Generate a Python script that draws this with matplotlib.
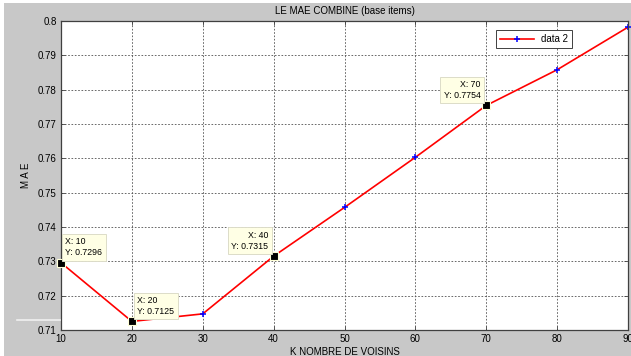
import matplotlib.pyplot as plt
from matplotlib.patches import Rectangle
from matplotlib.lines import Line2D

# K values and MAE
k_values = [10, 20, 30, 40, 50, 60, 70, 80, 90]
mae = [0.7296, 0.7125, 0.7147, 0.7315, 0.7457, 0.7603, 0.7754, 0.7858, 0.7982]

# data tips shown on the chart: (index, box offset in points, alignment)
tip_idx = [0, 1, 3, 6]
tip_offsets = [(3, 4), (4, 4), (-4, 4), (-4, 4)]
tip_align = ['left', 'left', 'right', 'right']

plt.rcParams['font.family'] = ['Liberation Sans', 'DejaVu Sans']

fig = plt.figure(figsize=(6.31, 3.56), dpi=100, facecolor='white')
fig.add_artist(Rectangle((4 / 631, 0), 1, 353 / 356, transform=fig.transFigure,
                         facecolor='#c8c8c8', edgecolor='none', zorder=-10))
fig.add_artist(Line2D([17 / 631, 60 / 631], [36 / 356, 36 / 356], transform=fig.transFigure,
                      color='#f0f0f0', linewidth=1.2))

ax = fig.add_axes([61 / 631, 26 / 356, 567 / 631, 309 / 356])
ax.set_facecolor('white')

ax.plot(k_values, mae, color='red', linewidth=1.2, marker='+', markersize=5,
        markeredgecolor='blue', markeredgewidth=1.1, label='data 2', clip_on=False)

for i, off, ha in zip(tip_idx, tip_offsets, tip_align):
    x, y = k_values[i], mae[i]
    ax.plot(x, y, marker='s', color='black', markersize=6, markeredgecolor='#ffffd8',
            markeredgewidth=0.8, zorder=5, clip_on=False)
    ax.annotate(f'X: {x}\nY: {y:.4f}', xy=(x, y), xytext=off, textcoords='offset points',
                ha=ha, va='bottom', fontsize=6.3, multialignment=ha, zorder=6,
                linespacing=1.25,
                bbox=dict(boxstyle='square,pad=0.4', facecolor='#ffffe5', edgecolor='#dcdcc8',
                          linewidth=0.7))

ax.set_xlim(10, 90)
ax.set_ylim(0.71, 0.8)
ax.set_xticks(range(10, 91, 10))
ax.set_yticks([0.71, 0.72, 0.73, 0.74, 0.75, 0.76, 0.77, 0.78, 0.79, 0.8])
ax.set_yticklabels(['0.71', '0.72', '0.73', '0.74', '0.75', '0.76', '0.77', '0.78', '0.79', '0.8'])
ax.tick_params(direction='in', labelsize=7, length=3, width=0.6, top=True, right=True, pad=3,
               color='#404040')
ax.grid(True, color='#505050', linestyle=(0, (2, 2)), linewidth=0.6)
for s in ax.spines.values():
    s.set_linewidth(0.9)
    s.set_color('#404040')

ax.set_title('LE MAE COMBINE (base items)', fontsize=7, pad=5)
ax.set_xlabel('K NOMBRE DE VOISINS', fontsize=7, labelpad=2)
ax.set_ylabel('M A E', fontsize=7, labelpad=5)

leg = ax.legend(loc='upper left', bbox_to_anchor=(0.758, 0.985), fontsize=7,
                fancybox=False, framealpha=1, edgecolor='#404040', handlelength=3.5,
                borderpad=0.4)
leg.get_frame().set_linewidth(0.7)

plt.savefig('out.png', dpi=100, facecolor=fig.get_facecolor())
